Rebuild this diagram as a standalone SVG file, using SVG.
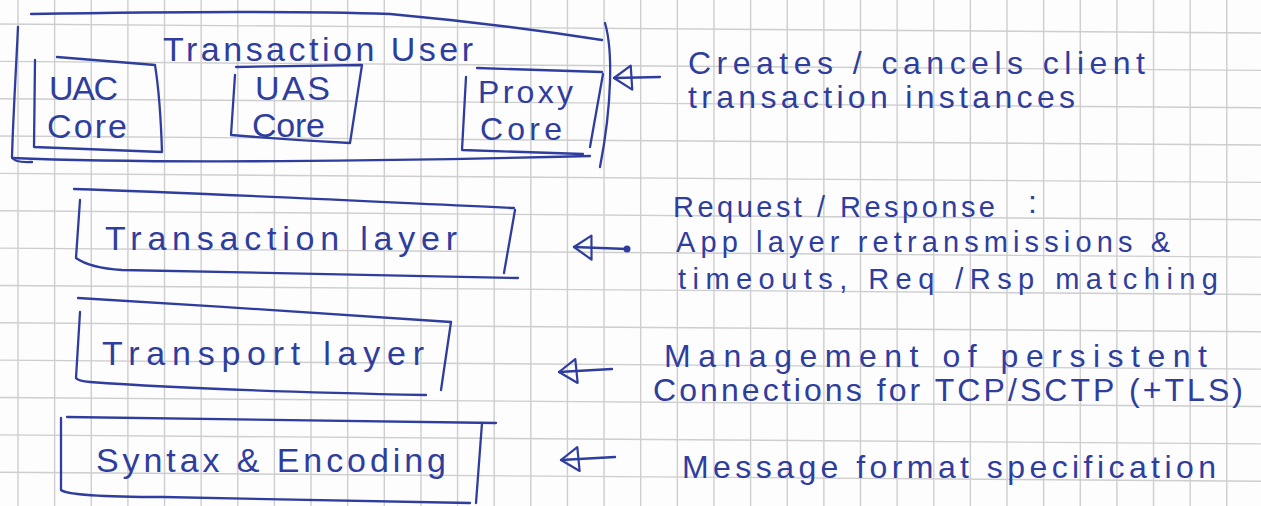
<svg xmlns="http://www.w3.org/2000/svg" width="1261" height="506" viewBox="0 0 1261 506">
<style>
.grid{stroke:#cecece;stroke-width:1.4;fill:none}
.ink{stroke:#2f3e9e;stroke-width:2.3;fill:none;stroke-linecap:round;stroke-linejoin:round}
.lbl{font-family:'Liberation Sans',Arial,sans-serif;fill:#2f3e9e;font-size:32px}
.big{font-size:34px}
.sm{font-size:29px}
</style>
<defs>
<marker id="head" markerUnits="userSpaceOnUse" markerWidth="22" markerHeight="28" viewBox="-2 -2 22 28" refX="18" refY="12" orient="auto">
<path d="M0,0 L18,12 L1,24 Z" fill="none" stroke="#2f3e9e" stroke-width="2.2" stroke-linejoin="round"/>
</marker>
</defs>
<rect width="1261" height="506" fill="#fdfdfd"/>
<g id="paper-grid">
<path class="grid" d="M18,0V506M54.63,0V506M91.26,0V506M127.89,0V506M164.52,0V506M201.15,0V506M237.78,0V506M274.41,0V506M311.04,0V506M347.67,0V506M384.3,0V506M420.93,0V506M457.56,0V506M494.19,0V506M530.82,0V506M567.45,0V506M604.08,0V506M640.71,0V506M677.34,0V506M713.97,0V506M750.6,0V506M787.23,0V506M823.86,0V506M860.49,0V506M897.12,0V506M933.75,0V506M970.38,0V506M1007.01,0V506M1043.64,0V506M1080.27,0V506M1116.9,0V506M1153.53,0V506M1190.16,0V506M1226.79,0V506"/>
<path class="grid" d="M0,24L1261,33M0,61.35L1261,70.35M0,98.7L1261,107.7M0,136.05L1261,145.05M0,173.4L1261,182.4M0,210.75L1261,219.75M0,248.1L1261,257.1M0,285.45L1261,294.45M0,322.8L1261,331.8M0,360.15L1261,369.15M0,397.5L1261,406.5M0,434.85L1261,443.85M0,472.2L1261,481.2"/>
</g>
<g id="transaction-user">
<path class="ink" d="M31,14 C150,12 300,11 390,14 Q500,24 602,40"/>
<path class="ink" d="M18,27 C16,70 13,120 12,157 Q14,163 32,162"/>
<path class="ink" d="M12,158 C150,164 400,161 590,156"/>
<path class="ink" d="M605,23 C613,50 612,105 600,167"/>
<text class="lbl big" x="163" y="61" textLength="310" lengthAdjust="spacing">Transaction User</text>
</g>
<g id="uac-core">
<path class="ink" d="M57,57 L155,65 C159,90 161,120 162,152 L34,147 L35,60"/>
<text class="lbl big" x="49" y="100" textLength="69" lengthAdjust="spacing">UAC</text>
<text class="lbl big" x="47" y="138" textLength="80" lengthAdjust="spacing">Core</text>
</g>
<g id="uas-core">
<path class="ink" d="M236,67 L362,65 L350,143 Q290,140 231,135 L235,75"/>
<text class="lbl big" x="255" y="100" textLength="75" lengthAdjust="spacing">UAS</text>
<text class="lbl big" x="252" y="137" textLength="73" lengthAdjust="spacing">Core</text>
</g>
<g id="proxy-core">
<path class="ink" d="M477,68 L602,72"/>
<path class="ink" d="M466,77 L462,150 L583,154"/>
<path class="ink" d="M603,74 L590,147"/>
<text class="lbl" x="478" y="103" textLength="95" lengthAdjust="spacing">Proxy</text>
<text class="lbl" x="480" y="140" textLength="82" lengthAdjust="spacing">Core</text>
</g>
<g id="transaction-layer">
<path class="ink" d="M74,189 C200,193 340,200 514,208"/>
<path class="ink" d="M80,200 L76,258 Q90,268 122,270 L518,278"/>
<path class="ink" d="M515,210 L504,273"/>
<text class="lbl big" x="105" y="250" textLength="352" lengthAdjust="spacing">Transaction layer</text>
</g>
<g id="transport-layer">
<path class="ink" d="M78,298 C200,305 350,315 451,322"/>
<path class="ink" d="M80,312 L76,378 Q78,381 90,382 C200,390 330,393 426,395"/>
<path class="ink" d="M451,322 L441,390"/>
<text class="lbl big" x="102" y="365" textLength="322" lengthAdjust="spacing">Transport layer</text>
</g>
<g id="syntax-encoding">
<path class="ink" d="M67,417 L496,423"/>
<path class="ink" d="M61,418 L61,490 Q70,497 163,497 L470,503"/>
<path class="ink" d="M482,423 L476,503"/>
<text class="lbl big" x="96" y="472" textLength="350" lengthAdjust="spacing">Syntax &amp; Encoding</text>
</g>
<g id="note-transaction-user">
<text class="lbl" x="688" y="74" textLength="457" lengthAdjust="spacing">Creates / cancels client</text>
<text class="lbl" x="688" y="108" textLength="387" lengthAdjust="spacing">transaction instances</text>
</g>
<g id="note-transaction-layer">
<text class="lbl sm" x="673" y="217" textLength="322" lengthAdjust="spacing">Request / Response</text>
<text class="lbl" x="1028" y="213" font-size="16px">:</text>
<text class="lbl sm" x="676" y="252" textLength="494" lengthAdjust="spacing">App layer retransmissions &amp;</text>
<text class="lbl sm" x="678" y="289" textLength="540" lengthAdjust="spacing">timeouts, Req /Rsp matching</text>
</g>
<g id="note-transport-layer">
<text class="lbl" x="664" y="367" textLength="543" lengthAdjust="spacing">Management of persistent</text>
<text class="lbl" x="653" y="401" textLength="590" lengthAdjust="spacing">Connections for TCP/SCTP (+TLS)</text>
</g>
<g id="note-syntax-encoding">
<text class="lbl" x="682" y="478" textLength="534" lengthAdjust="spacing">Message format specification</text>
</g>
<g id="connectors">
<line class="ink" x1="660" y1="77" x2="614" y2="78" marker-end="url(#head)"/>
<line class="ink" x1="627" y1="249" x2="574" y2="247" marker-end="url(#head)"/>
<circle cx="627" cy="249" r="3.5" fill="#2f3e9e"/>
<line class="ink" x1="612" y1="369" x2="559" y2="372" marker-end="url(#head)"/>
<line class="ink" x1="615" y1="457" x2="561" y2="460" marker-end="url(#head)"/>
</g>
</svg>
